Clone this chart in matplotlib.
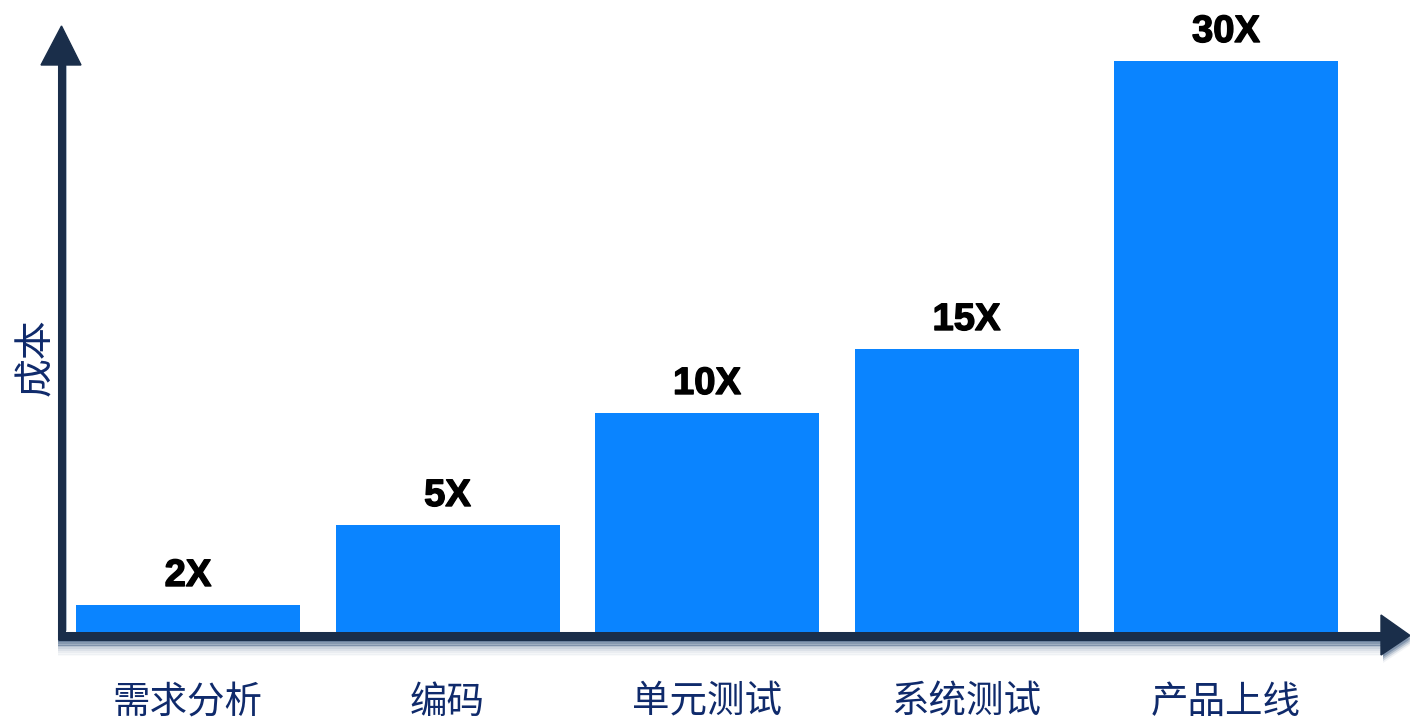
import matplotlib
matplotlib.use('Agg')
import matplotlib.pyplot as plt
import matplotlib.patheffects as pe
from matplotlib.patches import Polygon

plt.rcParams['font.family'] = ['Noto Sans CJK SC', 'DejaVu Sans']

# 数据
stages = ['需求分析', '编码', '单元测试', '系统测试', '产品上线']
cost_labels = ['2X', '5X', '10X', '15X', '30X']
bar_heights = [27, 107, 219, 283, 571]   # 图中柱高（像素比例）

axis_color = '#1a2e4a'
bar_color = '#0a84ff'
text_color = '#0f2a6b'

W, H = 1410, 720
fig = plt.figure(figsize=(W / 100, H / 100), dpi=100)

# 装饰层：坐标轴箭头与阴影（像素坐标）
deco = fig.add_axes([0, 0, 1, 1])
deco.set_xlim(0, W)
deco.set_ylim(H, 0)
deco.axis('off')

# x轴下方阴影
for i, a in enumerate([0.85, 0.7, 0.55, 0.42, 0.3, 0.2, 0.12, 0.06, 0.03]):
    y = 641 + i * 1.8
    deco.plot([58, 1385], [y, y], color='#4f6a8c', alpha=a, lw=1.4,
              solid_capstyle='butt', zorder=1)
deco.plot([66, 66], [66, 630], color='#9fb0c4', lw=1.2, zorder=1)

# y轴
deco.plot([61.5, 61.5], [62, 640], color=axis_color, lw=5.8,
          solid_capstyle='butt', zorder=3)
deco.add_patch(Polygon([[41, 65], [81, 65], [61.5, 26]], closed=True,
                       color=axis_color, zorder=3))
# x轴
deco.plot([58, 1384], [635.5, 635.5], color=axis_color, lw=6.5,
          solid_capstyle='butt', zorder=3)
for i, a in enumerate([0.45, 0.3, 0.18, 0.08]):
    deco.add_patch(Polygon([[1383, 618 + i * 2], [1383, 657 + i * 2],
                            [1412, 638 + i * 2]], closed=True,
                           color='#4f6a8c', alpha=a, lw=0, zorder=2))
deco.add_patch(Polygon([[1381, 615], [1381, 655], [1410, 635.5]], closed=True,
                       color=axis_color, zorder=3))

# 轴标签
deco.text(36, 357, '成本', rotation=90, ha='center', va='center',
          fontsize=28, color=text_color, zorder=4)

# 柱状图层
ax = fig.add_axes([0, 0, 1, 1])
ax.patch.set_alpha(0)
ax.axis('off')
pitch = 259.5
ax.set_xlim(-188 / pitch, (W - 188) / pitch)
ax.set_ylim(-(H - 632), 632)

xs = list(range(len(stages)))
bars = ax.bar(xs, bar_heights, width=224 / pitch, color=bar_color, zorder=2)

for x, h, lab in zip(xs, bar_heights, cost_labels):
    ax.text(x, h + 11, lab, ha='center', va='bottom', fontsize=27.5,
            fontweight='bold', color='black', family='Liberation Sans',
            path_effects=[pe.withStroke(linewidth=1.0, foreground='black')])

for x, s in zip(xs, stages):
    ax.text(x, -70, s, ha='center', va='center', fontsize=27, color=text_color)

fig.savefig('out.png', dpi=100)
